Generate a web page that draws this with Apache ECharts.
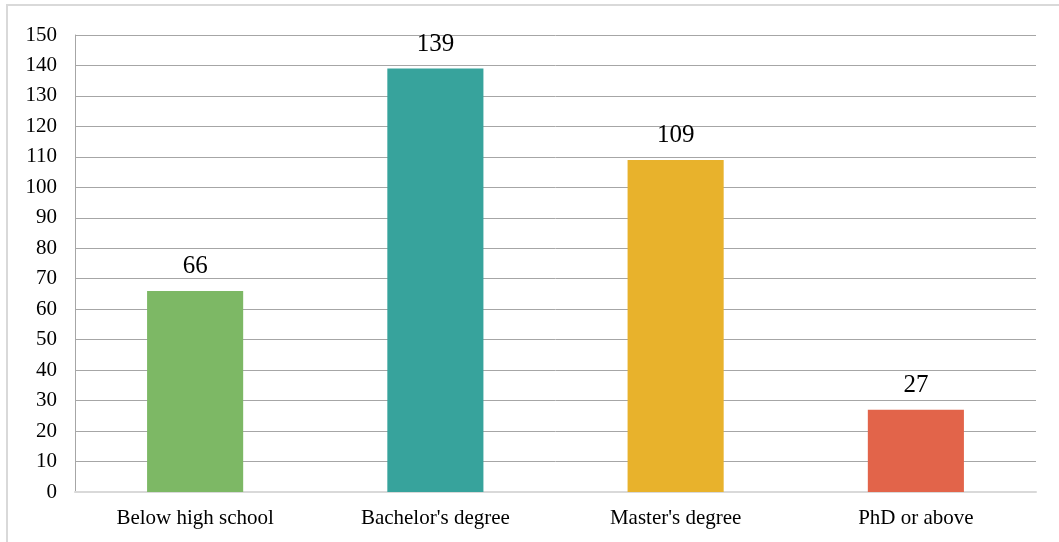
<!DOCTYPE html>
<html><head><meta charset="utf-8">
<script src="https://cdn.jsdelivr.net/npm/echarts@6/dist/echarts.min.js"></script>
<style>html,body{margin:0;padding:0;background:#fff}#c{width:1059px;height:542px}</style>
</head><body><div id="c"></div>
<script>
const categories = ["Below high school", "Bachelor's degree", "Master's degree", "PhD or above"];
const values = [66, 139, 109, 27];
const barColors = ["#7DB865", "#37A39C", "#E8B22C", "#E2644A"];
const yTicks = {min: 0, max: 150, interval: 10};

const chart = echarts.init(document.getElementById('c'));
const font = '"Liberation Serif", "Times New Roman", serif';
chart.setOption({
  animation: false,
  textStyle: {fontFamily: font},
  graphic: [{type: 'rect', shape: {x: 7, y: 5, width: 1200, height: 700}, style: {fill: 'none', stroke: '#d9d9d9', lineWidth: 2}}],
  grid: {left: 75, right: 23, top: 35, bottom: 50},
  xAxis: {
    type: 'category', data: categories,
    axisLine: {lineStyle: {color: '#d9d9d9', width: 2}},
    axisTick: {show: false},
    axisLabel: {color: '#000', fontSize: 21, fontFamily: font, margin: 16}
  },
  yAxis: {
    type: 'value', min: yTicks.min, max: yTicks.max, interval: yTicks.interval,
    axisLine: {show: true, lineStyle: {color: '#a6a6a6', width: 1}},
    axisTick: {show: false},
    axisLabel: {color: '#000', fontSize: 21, fontFamily: font, margin: 18},
    splitLine: {lineStyle: {color: '#a6a6a6', width: 1}}
  },
  series: [{
    type: 'bar', barWidth: '40%',
    data: values.map((v, i) => ({value: v, itemStyle: {color: barColors[i]}})),
    label: {show: true, position: 'top', color: '#000', fontSize: 25, fontFamily: font, distance: 12}
  }]
});
</script></body></html>
